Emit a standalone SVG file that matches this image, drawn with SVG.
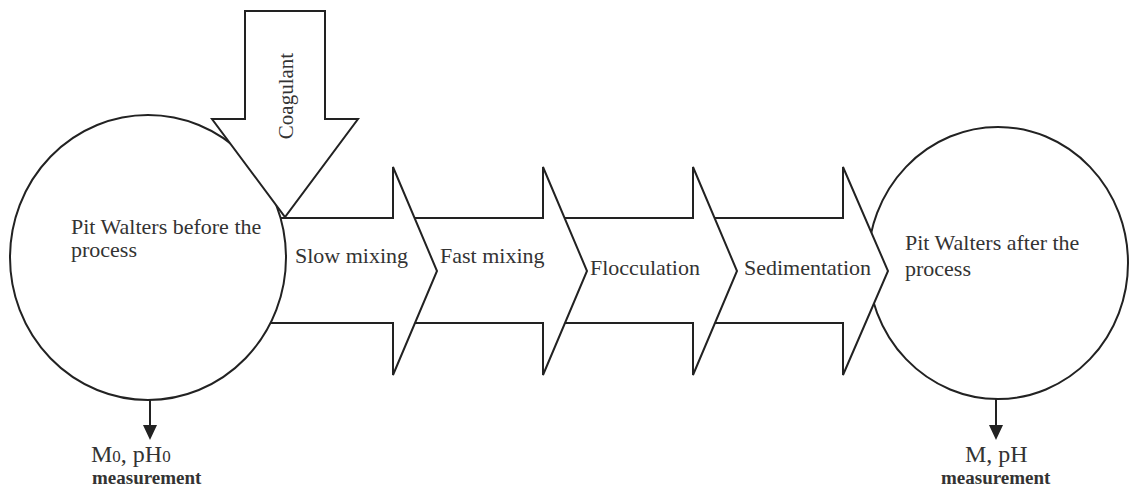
<svg xmlns="http://www.w3.org/2000/svg" width="1129" height="488" viewBox="0 0 1129 488">
<style>
.shape{fill:#fff;stroke:#222;stroke-width:2;stroke-linejoin:miter}
.t{font-family:"Liberation Serif","Times New Roman",serif;font-size:22px;fill:#333}
.m{font-family:"Liberation Serif","Times New Roman",serif;font-size:19px;font-weight:bold;fill:#333}
.lbl{font-family:"Liberation Serif","Times New Roman",serif;font-size:24px;fill:#333}
.conn{stroke:#222;stroke-width:2;fill:none}
.head{fill:#222}
</style>
<rect width="1129" height="488" fill="#fff"/>
<g id="after-circle">
<ellipse class="shape" cx="998" cy="263" rx="130" ry="136"/>
</g>
<g id="sedimentation">
<polygon class="shape" points="693,218 843,218 843,167 888,271 843,375 843,323 693,323"/>
</g>
<g id="flocculation">
<polygon class="shape" points="543,218 693,218 693,167 737,271 693,375 693,323 543,323"/>
</g>
<g id="fast-mixing">
<polygon class="shape" points="393,218 543,218 543,167 587,271 543,375 543,323 393,323"/>
</g>
<g id="slow-mixing">
<polygon class="shape" points="200,218 393,218 393,167 437,271 393,375 393,323 200,323"/>
</g>
<g id="before-circle">
<ellipse class="shape" cx="148" cy="257.5" rx="138" ry="142.5"/>
</g>
<g id="coagulant">
<polygon class="shape" points="245,11 325,11 325,119 358,119 285,217 212,119 245,119"/>
<text class="t" transform="translate(293,96) rotate(-90)" text-anchor="middle" style="font-size:21px">Coagulant</text>
</g>
<g id="labels">
<text class="t" x="71" y="234">Pit Walters before the</text>
<text class="t" x="71" y="257">process</text>
<text class="t" x="295" y="263">Slow mixing</text>
<text class="t" x="440" y="263">Fast mixing</text>
<text class="t" x="590" y="275">Flocculation</text>
<text class="t" x="744" y="275">Sedimentation</text>
<text class="t" x="905" y="250">Pit Walters after the</text>
<text class="t" x="905" y="276">process</text>
</g>
<g id="connectors">
<line class="conn" x1="150" y1="400" x2="150" y2="428"/>
<polygon class="head" points="143,425 157,425 150,440"/>
<line class="conn" x1="996" y1="399" x2="996" y2="428"/>
<polygon class="head" points="989,425 1003,425 996,440"/>
</g>
<g id="measure-before">
<text class="lbl" x="91" y="462">M<tspan font-size="17">0</tspan>, pH<tspan font-size="17">0</tspan></text>
<text class="m" x="92" y="484">measurement</text>
</g>
<g id="measure-after">
<text class="lbl" x="965" y="462">M, pH</text>
<text class="m" x="941" y="484">measurement</text>
</g>
</svg>
